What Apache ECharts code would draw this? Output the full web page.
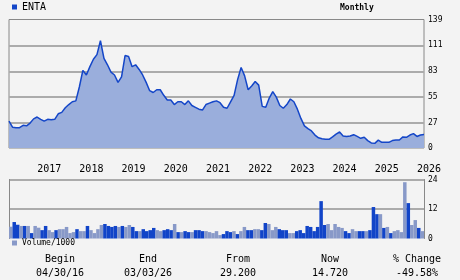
<!DOCTYPE html>
<html><head><meta charset="utf-8">
<script src="https://cdn.jsdelivr.net/npm/echarts@6/dist/echarts.min.js"></script>
<style>html,body{margin:0;padding:0;background:#f3f3f3;}#c{width:460px;height:280px;}</style>
</head><body><div id="c"></div>
<script>
const ticker = 'ENTA';
const frequency = 'Monthly';
const startYear = 2016, startMonth = 5; // first monthly point (04/30/16)
const price = [29.2, 22.5, 22, 22, 24.5, 24, 27, 31.5, 33.5, 31,
 29, 31, 30.5, 31, 37, 38.5, 43.5, 47, 50, 51,
 66, 84, 79, 88, 96, 101, 116, 97, 90, 82,
 79, 71, 77, 100, 99, 88, 90, 85, 79, 71,
 62, 60, 63, 63, 57, 52, 52, 47, 50, 50,
 47, 51, 46, 44, 42, 41, 47, 48.5, 50, 51,
 49, 44, 43, 50, 57, 74, 87, 78, 63, 67,
 72, 68, 45, 44, 54, 61, 55, 46, 43, 47,
 53, 50, 42, 32, 24, 21, 18.5, 14, 11, 10,
 9.4, 9.4, 12, 15, 17.3, 13, 12.5, 13, 14.4, 12.5,
 10.5, 11.6, 8, 5.5, 5, 8.5, 6.2, 6.1, 6.1, 8,
 8.7, 8.7, 12, 11.6, 14, 15.5, 12.5, 14, 14.72];
const volume = [4.8, 6.7, 5.6, 5.1, 5.1, 5.1, 2.2, 5.1, 4.4, 3.4,
 5.1, 3.4, 2.6, 3.4, 3.8, 3.8, 4.7, 2.2, 2.6, 3.8,
 3.0, 3.0, 5.1, 3.4, 2.2, 3.8, 5.5, 5.9, 5.1, 4.7,
 5.1, 4.7, 5.1, 4.7, 5.5, 4.7, 3.0, 3.0, 3.8, 3.0,
 3.4, 4.3, 3.4, 3.0, 3.4, 3.8, 3.4, 5.9, 2.6, 2.6,
 3.0, 2.6, 2.6, 3.4, 3.4, 3.0, 3.0, 2.6, 2.2, 3.0,
 1.4, 1.8, 3.0, 2.6, 3.0, 1.8, 3.0, 4.7, 3.4, 3.4,
 3.8, 3.8, 3.4, 6.3, 5.9, 3.4, 4.7, 3.8, 3.4, 3.4,
 2.2, 2.2, 3.0, 3.4, 2.2, 5.1, 4.7, 3.0, 4.7, 15.2,
 5.5, 5.9, 3.4, 5.9, 4.7, 4.3, 3.0, 2.2, 3.8, 3.0,
 3.0, 3.0, 3.0, 3.4, 12.8, 9.9, 9.9, 4.3, 4.7, 2.2,
 3.0, 3.4, 2.6, 22.9, 14.4, 5.5, 7.5, 4.3, 3.0];
// D = dark bar, L = light bar
const volumeTone = 'LDDLDLDLLD' + 'DLLDLLLLLD' + 'LLDLLLLDDD' + 'DLDLLDDLDD' +
  'DDLLDDDLDL' + 'DDLDDDLLLL' + 'LDDDLDLLDD' + 'LLDDLLLDDD' + 'LLDDDDDDDD' +
  'DLLLLLDDLL' + 'DDLDDDLDLD' + 'LLLLDLLDL';
const priceTicks = [0, 27, 55, 83, 111, 139];
const volumeTicks = [0, 12, 24];
const summaryHeads = ['Begin', 'End', 'From', 'Now', '% Change'];
const summaryValues = ['04/30/16', '03/03/26', '29.200', '14.720', '-49.58%'];

const months = price.map((_, i) => {
  const m = startMonth - 1 + i;
  return (startYear + Math.floor(m / 12)) + '-' + String(m % 12 + 1).padStart(2, '0');
});
const FONT = 'DejaVu Sans Mono';
const DARK = '#1144c8', LIGHT = '#8899c8', GRID = '#888', GRIDLINE = '#ababab';
const colX = [60, 148, 238, 330, 417];

const chart = echarts.init(document.getElementById('c'));
chart.setOption({
  backgroundColor: '#f3f3f3',
  animation: false,
  legend: [
    {data: [ticker], left: 12, top: 2, padding: 0, icon: 'rect', itemWidth: 5, itemHeight: 5,
     textStyle: {fontFamily: FONT, fontSize: 10, color: '#000'}},
    {data: ['Volume/1000'], left: 12, top: 239, padding: 0, icon: 'rect', itemWidth: 5, itemHeight: 5,
     textStyle: {fontFamily: FONT, fontSize: 8, color: '#000'}}
  ],
  grid: [
    {left: 9, right: 36, top: 19.5, height: 128.5, show: true, borderColor: GRID, borderWidth: 1},
    {left: 9, right: 36, top: 179.5, height: 59}
  ],
  xAxis: [
    {type: 'category', gridIndex: 0, data: months, boundaryGap: false,
     axisLine: {show: false}, axisTick: {show: false},
     axisLabel: {interval: (i, v) => v.endsWith('-01'), formatter: v => v.slice(0, 4),
       align: 'left', margin: 16, fontFamily: FONT, fontSize: 10, color: '#000'}},
    {type: 'category', gridIndex: 1, data: months, boundaryGap: true,
     axisLine: {show: false}, axisTick: {show: false}, axisLabel: {show: false}}
  ],
  yAxis: [
    {type: 'value', gridIndex: 0, position: 'right', min: 0, max: 139,
     axisTick: {show: false, customValues: priceTicks},
     splitLine: {show: true, showMinLine: false, showMaxLine: false, lineStyle: {color: GRIDLINE, width: 2}},
     axisLabel: {customValues: priceTicks, margin: 4, padding: [4, 0, 0, 0], fontFamily: FONT, fontSize: 8, color: '#000'}},
    {type: 'value', gridIndex: 1, position: 'right', min: 0, max: 24, interval: 12,
     axisLine: {show: true, lineStyle: {color: GRID, width: 1}}, axisTick: {show: false},
     splitLine: {show: true, showMinLine: false, lineStyle: {color: GRIDLINE, width: 2}},
     axisLabel: {margin: 4, padding: [3, 0, 0, 0], fontFamily: FONT, fontSize: 8, color: '#000'}},
    {type: 'value', gridIndex: 1, position: 'left', min: 0, max: 24,
     axisLine: {show: true, lineStyle: {color: GRID, width: 1}}, axisTick: {show: false},
     axisLabel: {show: false}, splitLine: {show: false}}
  ],
  series: [
    {type: 'line', name: ticker, xAxisIndex: 0, yAxisIndex: 0, data: price,
     symbol: 'none', lineStyle: {color: '#1446c8', width: 1.5}, itemStyle: {color: '#1446c8'},
     areaStyle: {color: '#9aaedc', opacity: 1}},
    {type: 'bar', name: 'Volume/1000', xAxisIndex: 1, yAxisIndex: 1, barWidth: '100%', barCategoryGap: 0,
     itemStyle: {color: LIGHT},
     data: volume.map((v, i) => ({value: v, itemStyle: {color: volumeTone[i] === 'D' ? DARK : LIGHT}}))}
  ],
  graphic: [
    {type: 'text', left: 340, top: 4, style: {text: frequency, font: 'bold 8px "DejaVu Sans Mono"', fill: '#000'}},
    ...summaryHeads.map((t, i) => ({type: 'text', x: colX[i], y: 259,
      style: {text: t, font: '10px "DejaVu Sans Mono"', fill: '#000', align: 'center', verticalAlign: 'middle'}})),
    ...summaryValues.map((t, i) => ({type: 'text', x: colX[i], y: 273,
      style: {text: t, font: '10px "DejaVu Sans Mono"', fill: '#000', align: 'center', verticalAlign: 'middle'}}))
  ]
});
</script></body></html>
